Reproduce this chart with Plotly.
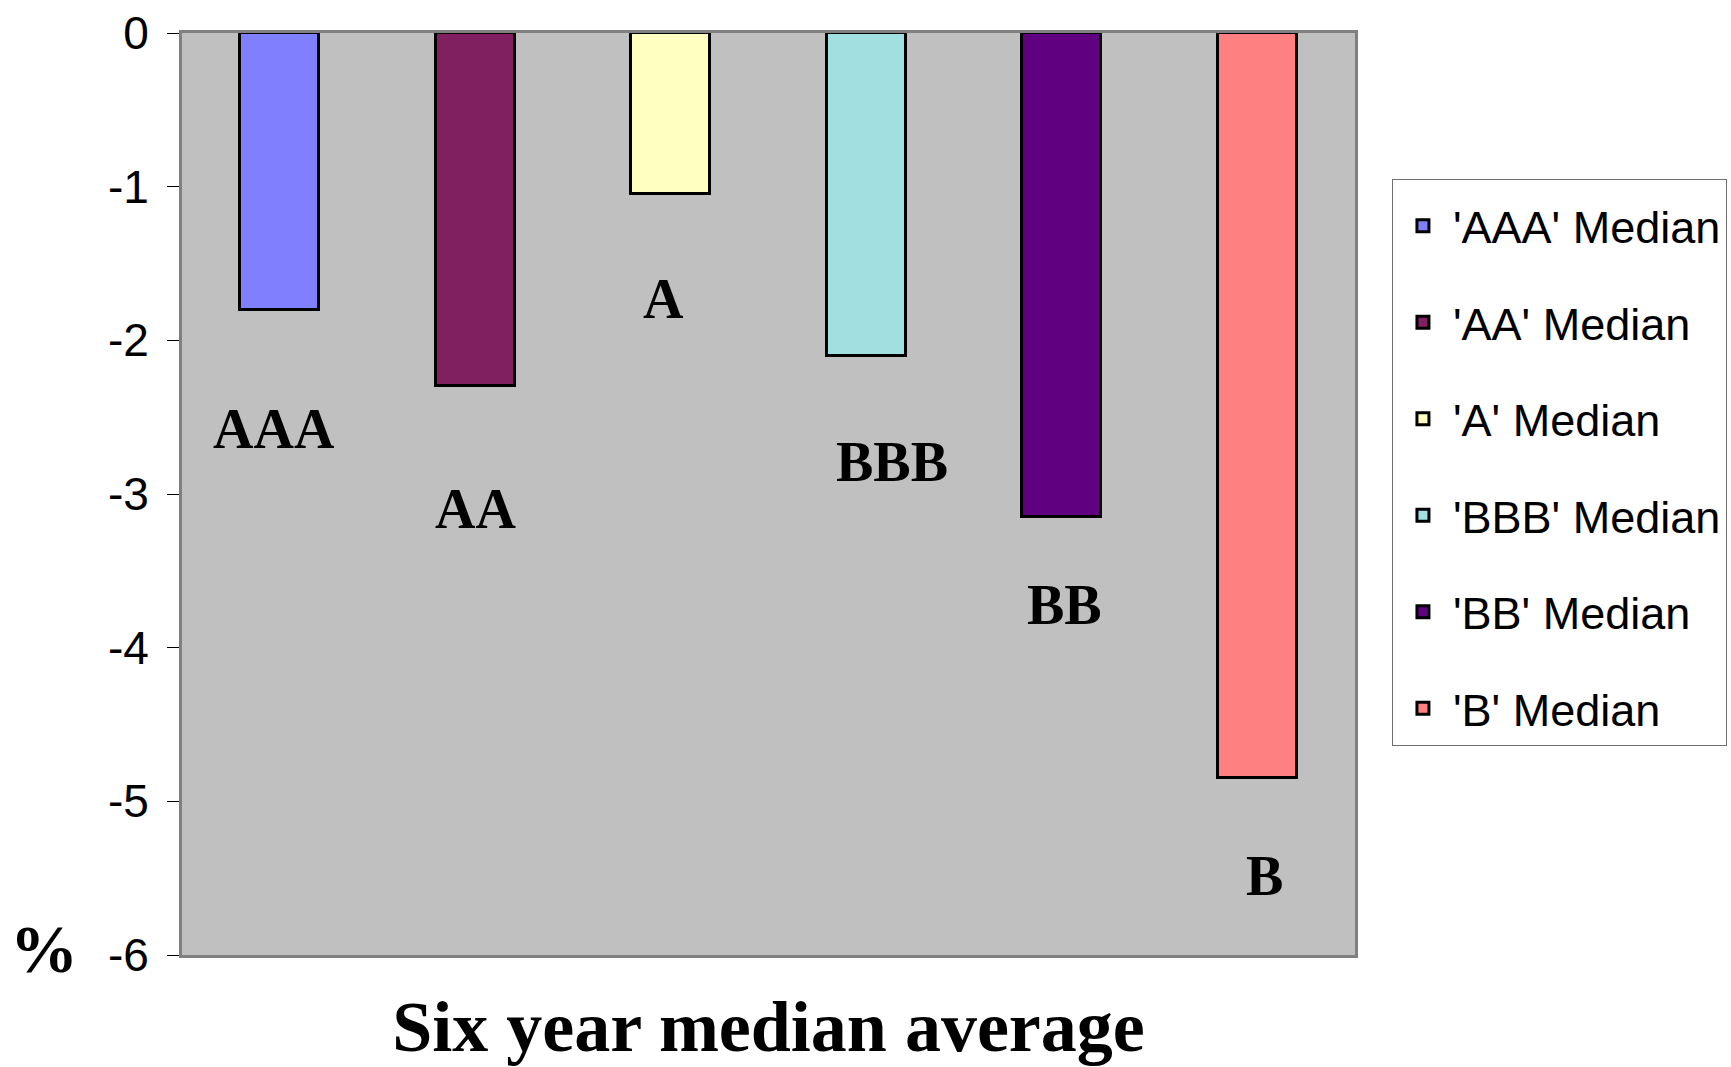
import plotly.graph_objects as go

# Six-year median average change (%) by rating grade
grades = ["AAA", "AA", "A", "BBB", "BB", "B"]
series_names = ["'AAA' Median", "'AA' Median", "'A' Median",
                "'BBB' Median", "'BB' Median", "'B' Median"]
median_values = [-1.80, -2.30, -1.05, -2.10, -3.15, -4.85]
y_ticks = [0, -1, -2, -3, -4, -5, -6]

# styling
bar_colors = ["#8080FF", "#802060", "#FFFFC0", "#A0E0E0", "#600080", "#FF8080"]
label_yshift = [-119, -123, -105, -106, -88, -98]
label_xshift = [-6, 0, -7, 26, 3, 7]

serif = "Liberation Serif, Times New Roman, serif"
sans = "Liberation Sans, Arial, sans-serif"

fig = go.Figure()
for i, (name, val, col) in enumerate(zip(series_names, median_values, bar_colors)):
    fig.add_trace(go.Bar(
        x=[i], y=[val], name=name, width=0.404,
        marker=dict(color=col, line=dict(color="black", width=3)),
        legendgroup=name,
    ))

for i, (g, val) in enumerate(zip(grades, median_values)):
    fig.add_annotation(
        x=i, y=val, text=g, showarrow=False,
        xanchor="center", yanchor="middle",
        xshift=label_xshift[i], yshift=label_yshift[i],
        font=dict(family=serif, size=56, color="black", weight="bold"),
    )

fig.add_annotation(
    xref="paper", yref="paper", x=-0.1176, y=0.006, text="%",
    showarrow=False, xanchor="center", yanchor="middle",
    font=dict(family=serif, size=68, color="black", weight="bold"),
)

fig.update_layout(
    width=1731, height=1067,
    margin=dict(l=182, r=376, t=33, b=112, autoexpand=False),
    paper_bgcolor="white", plot_bgcolor="#C0C0C0",
    barmode="overlay", bargap=0,
    showlegend=True,
    legend=dict(
        x=1.0315, y=0.842, xanchor="left", yanchor="top",
        xref="paper", yref="paper",
        bgcolor="white", bordercolor="#707070", borderwidth=1,
        font=dict(family=sans, size=45, color="black"),
        tracegroupgap=35, traceorder="grouped", itemwidth=50,
        title=dict(text=" ", font=dict(size=8)),
    ),
    xaxis=dict(
        range=[-0.5, 5.5], showticklabels=False, ticks="",
        showgrid=False, zeroline=False,
        showline=True, mirror=True, linecolor="#808080", linewidth=3,
        layer="below traces",
        title=dict(text="Six year median average", standoff=51,
                   font=dict(family=serif, size=72, color="black", weight="bold")),
    ),
    yaxis=dict(
        range=[-6, 0], tickvals=y_ticks, ticktext=[str(v) for v in y_ticks],
        ticks="outside", ticklen=12, tickwidth=1, tickcolor="black",
        showgrid=False, zeroline=False,
        showline=True, mirror=True, linecolor="#808080", linewidth=3,
        layer="below traces", ticklabelstandoff=9,
        tickfont=dict(family=sans, size=46, color="black"),
    ),
)

fig.write_html("out.html")
